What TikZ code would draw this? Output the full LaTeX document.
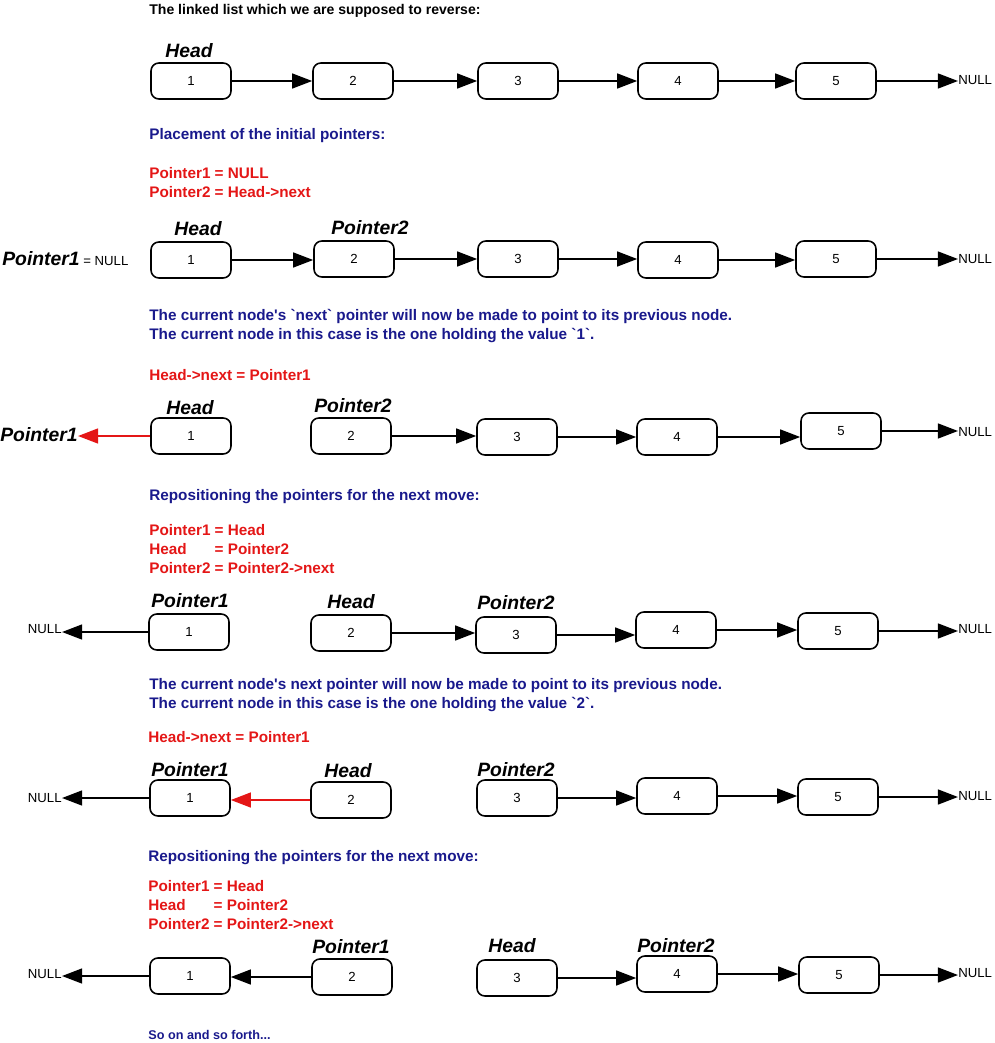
\documentclass[tikz,border=0pt]{standalone}
\usepackage{fontspec}
\setmainfont{Liberation Sans}
\usepackage{tikz}
\usetikzlibrary{arrows.meta}
\definecolor{navytxt}{RGB}{25,25,140}
\definecolor{redtxt}{RGB}{228,22,22}

\begin{document}
\begin{tikzpicture}[x=0.02cm,y=-0.02cm,
    cell/.style={draw,line width=0.9pt,rounded corners=4.5pt,minimum width=1.6cm,minimum height=0.72cm,inner sep=0pt,font=\fontsize{7.5}{9}\selectfont},
    link/.style={line width=1.1pt,-{Triangle[length=11.5pt,width=8.5pt]}},
    back/.style={link,redtxt},
    tag/.style={inner sep=0pt,font=\fontsize{11}{13}\selectfont\bfseries\itshape},
    null/.style={inner sep=0pt,font=\fontsize{7.5}{9}\selectfont},
    note/.style={anchor=west,inner sep=0pt,align=left,font=\fontsize{8.7}{10.8}\selectfont\bfseries}]
    \useasboundingbox (0,0) rectangle (994,1043);
    % List to reverse
    \node[note,font=\fontsize{8}{10}\selectfont\bfseries] (title) at (149,11) {The linked list which we are supposed to reverse:};
    \foreach \n/\x/\y in {1/191/81,2/353/81,3/518/81,4/678/81,5/836/81}
      \node[cell] (a\n) at (\x,\y) {\n};
    \node[tag] (ahead) at (189,51) {Head};
    \node[null,anchor=west] (anull) at (958,80) {NULL};
    \foreach \i/\j in {1/2,2/3,3/4,4/5} \draw[link] (a\i) -- (a\i -| a\j.west);
    \draw[link] (a5) -- (a5 -| anull.west);
    % Initial pointers
    \node[note,navytxt] (n1) at (149,136) {Placement of the initial pointers:};
    \node[note,redtxt] (r1) at (149,183) {Pointer1 = NULL\\Pointer2 = Head->next};
    \foreach \n/\x/\y in {1/191/260,2/354/259,3/518/259,4/678/260,5/836/259}
      \node[cell] (b\n) at (\x,\y) {\n};
    \node[tag] (bhead) at (198,229) {Head};
    \node[tag] (bp2) at (370,228) {Pointer2};
    \node[inner sep=0pt,anchor=west,font=\fontsize{7.5}{9}\selectfont] (bp1) at (2,259) {{\fontsize{11}{13}\selectfont\bfseries\itshape Pointer1} = NULL};
    \node[null,anchor=west] (bnull) at (958,259) {NULL};
    \foreach \i/\j in {1/2,2/3,3/4,4/5} \draw[link] (b\i) -- (b\i -| b\j.west);
    \draw[link] (b5) -- (b5 -| bnull.west);
    % First reversal
    \node[note,navytxt] (n2) at (149,326.5) {The current node\textquotesingle s \textasciigrave next\textasciigrave\ pointer will now be made to point to its previous node.\\The current node in this case is the one holding the value \textasciigrave 1\textasciigrave .};
    \node[note,redtxt] (r2) at (149,375) {Head->next = Pointer1};
    \foreach \n/\x/\y in {1/191/436,2/351/436,3/517/437,4/677/437,5/841/431}
      \node[cell] (c\n) at (\x,\y) {\n};
    \node[tag] (chead) at (190,408) {Head};
    \node[tag] (cp2) at (353,406) {Pointer2};
    \node[tag,anchor=east] (cp1) at (78,435) {Pointer1};
    \node[null,anchor=west] (cnull) at (958,432) {NULL};
    \draw[back] (c1) -- (c1 -| cp1.east);
    \foreach \i/\j in {2/3,3/4,4/5} \draw[link] (c\i) -- (c\i -| c\j.west);
    \draw[link] (c5) -- (c5 -| cnull.west);
    % Move the pointers
    \node[note,navytxt] (n3) at (149,497) {Repositioning the pointers for the next move:};
    \node[note,redtxt] (r3) at (149,549) {Pointer1 = Head\\\rlap{Head}\phantom{Pointer1} = Pointer2\\Pointer2 = Pointer2->next};
    \foreach \n/\x/\y in {1/189/632,2/351/633,3/516/635,4/676/630,5/838/631}
      \node[cell] (d\n) at (\x,\y) {\n};
    \node[tag] (dp1) at (190,601) {Pointer1};
    \node[tag] (dhead) at (351,602) {Head};
    \node[tag] (dp2) at (516,603) {Pointer2};
    \node[null,anchor=east] (dleft) at (62,629) {NULL};
    \node[null,anchor=west] (dnull) at (958,629) {NULL};
    \draw[link] (d1) -- (d1 -| dleft.east);
    \foreach \i/\j in {2/3,3/4,4/5} \draw[link] (d\i) -- (d\i -| d\j.west);
    \draw[link] (d5) -- (d5 -| dnull.west);
    % Second reversal
    \node[note,navytxt] (n4) at (149,695.5) {The current node\textquotesingle s next pointer will now be made to point to its previous node.\\The current node in this case is the one holding the value \textasciigrave 2\textasciigrave .};
    \node[note,redtxt] (r4) at (148,737) {Head->next = Pointer1};
    \foreach \n/\x/\y in {1/190/798,2/351/800,3/517/798,4/677/796,5/838/797}
      \node[cell] (e\n) at (\x,\y) {\n};
    \node[tag] (ep1) at (190,770) {Pointer1};
    \node[tag] (ehead) at (348,771) {Head};
    \node[tag] (ep2) at (516,770) {Pointer2};
    \node[null,anchor=east] (eleft) at (62,798) {NULL};
    \node[null,anchor=west] (enull) at (958,796) {NULL};
    \draw[link] (e1) -- (e1 -| eleft.east);
    \draw[back] (e2) -- (e2 -| e1.east);
    \foreach \i/\j in {3/4,4/5} \draw[link] (e\i) -- (e\i -| e\j.west);
    \draw[link] (e5) -- (e5 -| enull.west);
    % Move the pointers again
    \node[note,navytxt] (n5) at (148,858) {Repositioning the pointers for the next move:};
    \node[note,redtxt] (r5) at (148,905) {Pointer1 = Head\\\rlap{Head}\phantom{Pointer1} = Pointer2\\Pointer2 = Pointer2->next};
    \foreach \n/\x/\y in {1/190/976,2/352/977,3/517/978,4/677/974,5/839/975}
      \node[cell] (f\n) at (\x,\y) {\n};
    \node[tag] (fp1) at (351,947) {Pointer1};
    \node[tag] (fhead) at (512,946) {Head};
    \node[tag] (fp2) at (676,946) {Pointer2};
    \node[null,anchor=east] (fleft) at (62,974) {NULL};
    \node[null,anchor=west] (fnull) at (958,973) {NULL};
    \draw[link] (f1) -- (f1 -| fleft.east);
    \draw[link] (f2) -- (f2 -| f1.east);
    \foreach \i/\j in {3/4,4/5} \draw[link] (f\i) -- (f\i -| f\j.west);
    \draw[link] (f5) -- (f5 -| fnull.west);
    \node[note,navytxt,font=\fontsize{7.2}{9}\selectfont\bfseries] (n6) at (148,1035) {So on and so forth...};
  \end{tikzpicture}
\end{document}
